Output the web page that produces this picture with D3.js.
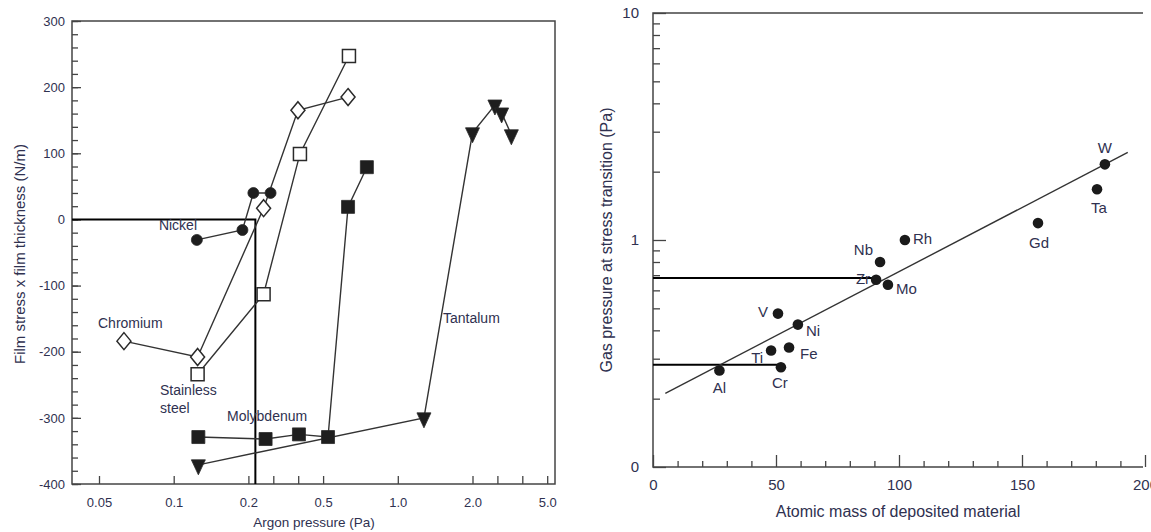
<!DOCTYPE html>
<html>
<head>
<meta charset="utf-8">
<script src="https://cdn.jsdelivr.net/npm/d3@7"></script>
<style>
  body { margin: 0; background: #fff; }
  svg { display: block; }
  text { font-family: "Liberation Sans", Arial, sans-serif; fill: #2f3150; }
</style>
</head>
<body>
<svg id="chart" width="1151" height="532"></svg>
<script>
// ---- Film stress x thickness versus argon pressure ----
const pressureTicks = [0.05, 0.1, 0.2, 0.5, 1, 2, 5];
const pressureTickLabels = ["0.05", "0.1", "0.2", "0.5", "1.0", "2.0", "5.0"];
const pressureMinorTicks = [0.3, 0.4, 3, 4];
const stressTicks = [-400, -300, -200, -100, 0, 100, 200, 300];
const stressTickLabels = ["-400", "-300", "-200", "-100", "0", "100", "200", "300"];

const nickelPressure = [0.131, 0.192, 0.22, 0.289];
const nickelStress = [-31, -16, 40, 40];
const chromiumPressure = [0.0667, 0.132, 0.261, 0.399, 0.667];
const chromiumStress = [-184, -208, 17, 165, 185];
const steelPressure = [0.132, 0.261, 0.407, 0.673];
const steelStress = [-234, -113, 99, 247];
const molybdenumPressure = [0.133, 0.269, 0.403, 0.533, 0.667, 0.793];
const molybdenumStress = [-329, -332, -325, -329, 19, 79];
const tantalumPressure = [0.133, 1.35, 2.0, 2.9, 3.17, 3.56];
const tantalumStress = [-371, -300, 131, 173, 161, 128];
const nickelTransitionPressure = 0.228;
const nickelTransitionStress = 0;

// ---- Transition pressure versus atomic mass ----
const elements = ["Al", "Ti", "Cr", "Fe", "V", "Ni", "Zr", "Nb", "Mo", "Rh", "Gd", "Ta", "W"];
const atomicMass = [27, 48, 52, 55.3, 50.8, 58.9, 90.7, 92.3, 95.5, 102.4, 156.5, 180.5, 183.7];
const transitionGasPressure = [0.266, 0.326, 0.275, 0.336, 0.474, 0.424, 0.668, 0.80, 0.635, 1.0, 1.187, 1.673, 2.154];
const fitMass = [5, 193];
const fitPressure = [0.211, 2.43];
const guideMass = [90.7, 52];
const guidePressure = [0.68, 0.282];
const massTicks = [0, 50, 100, 150, 200];
const massTickLabels = ["0", "50", "100", "150", "200"];
const gasTicks = [0.1, 1, 10];
const gasTickLabels = ["0", "1", "10"];

const svg = d3.select("#chart");
const INK = "#333";
const FRAME = "#444";
const TEXT = "#2f3150";
const FONT = "Liberation Sans, Arial, sans-serif";

// ================= left panel =================
const L = { x0: 72, x1: 555, y0: 21, y1: 484 };
const step = 74.7, first = 99;
const xL = d3.scaleLinear()
  .domain(pressureTicks)
  .range(pressureTicks.map((d, i) => first + i * step));
const yL = d3.scaleLinear().domain([-400, 300]).range([L.y1, L.y0]);

const gL = svg.append("g");

function styleAxis(g) {
  g.select(".domain").remove();
  g.selectAll(".tick line").attr("stroke", FRAME).attr("stroke-width", 1.3);
}
function styleLabels(size) {
  return g => g.selectAll("text").attr("font-size", size).attr("fill", TEXT).attr("font-family", FONT);
}

// y axis: minor every 20, majors labelled
gL.append("g").attr("transform", `translate(${L.x0},0)`)
  .call(d3.axisLeft(yL).tickValues(d3.range(-400, 301, 20)).tickSizeInner(-6).tickSizeOuter(0).tickFormat(""))
  .call(styleAxis);
gL.append("g").attr("transform", `translate(${L.x0},0)`)
  .call(d3.axisLeft(yL).tickValues(stressTicks).tickSizeInner(-9).tickSizeOuter(0).tickPadding(7)
    .tickFormat((d, i) => stressTickLabels[i]))
  .call(styleAxis)
  .call(styleLabels(13));

// x axis
gL.append("g").attr("transform", `translate(0,${L.y1})`)
  .call(d3.axisBottom(xL).tickValues(pressureMinorTicks).tickSizeInner(-8).tickSizeOuter(0).tickFormat(""))
  .call(styleAxis);
gL.append("g").attr("transform", `translate(0,${L.y1})`)
  .call(d3.axisBottom(xL).tickValues(pressureTicks).tickSizeInner(-8).tickSizeOuter(0).tickPadding(14)
    .tickFormat((d, i) => pressureTickLabels[i]))
  .call(styleAxis)
  .call(styleLabels(13));

// frame
gL.append("rect")
  .attr("x", L.x0).attr("y", L.y0).attr("width", L.x1 - L.x0).attr("height", L.y1 - L.y0)
  .attr("fill", "none").attr("stroke", FRAME).attr("stroke-width", 1.5);

// nickel transition guide
gL.append("path")
  .attr("d", d3.line()([
    [L.x0, yL(nickelTransitionStress)],
    [xL(nickelTransitionPressure), yL(nickelTransitionStress)],
    [xL(nickelTransitionPressure), L.y1]
  ]))
  .attr("fill", "none").attr("stroke", "#000").attr("stroke-width", 2);

const seriesL = [
  { name: "Nickel", px: nickelPressure, sy: nickelStress, marker: "circle", filled: true },
  { name: "Chromium", px: chromiumPressure, sy: chromiumStress, marker: "diamond", filled: false },
  { name: "Stainless steel", px: steelPressure, sy: steelStress, marker: "square", filled: false },
  { name: "Molybdenum", px: molybdenumPressure, sy: molybdenumStress, marker: "square", filled: true },
  { name: "Tantalum", px: tantalumPressure, sy: tantalumStress, marker: "triangleDown", filled: true }
];

const lineGen = d3.line().x(d => xL(d[0])).y(d => yL(d[1]));
seriesL.forEach(s => {
  const pts = s.px.map((p, i) => [p, s.sy[i]]);
  gL.append("path").attr("d", lineGen(pts))
    .attr("fill", "none").attr("stroke", INK).attr("stroke-width", 1.4);
});

function markerPath(type) {
  switch (type) {
    case "circle": return d3.symbol(d3.symbolCircle, 95)();
    case "square": return "M-6.5,-6.5H6.5V6.5H-6.5Z";
    case "diamond": return "M0,-8.5L7,0L0,8.5L-7,0Z";
    case "triangleDown": return "M-7,-5H7L0,10Z";
  }
}

seriesL.forEach(s => {
  gL.append("g").selectAll("path")
    .data(s.px.map((p, i) => [p, s.sy[i]]))
    .join("path")
    .attr("transform", d => `translate(${xL(d[0])},${yL(d[1])})`)
    .attr("d", markerPath(s.marker))
    .attr("fill", s.filled ? "#1e1e1e" : "#fff")
    .attr("stroke", "#2a2a2a")
    .attr("stroke-width", s.filled ? 0.8 : 1.5);
});

// series labels (placement in pixels)
const seriesLabelPos = [
  { lines: ["Nickel"], x: 197, y: 230, anchor: "end" },
  { lines: ["Chromium"], x: 98, y: 328, anchor: "start" },
  { lines: ["Stainless", "steel"], x: 160, y: 395, anchor: "start" },
  { lines: ["Molybdenum"], x: 227, y: 421, anchor: "start" },
  { lines: ["Tantalum"], x: 443, y: 323, anchor: "start" }
];
seriesLabelPos.forEach(l => {
  const t = gL.append("text").attr("x", l.x).attr("y", l.y)
    .attr("text-anchor", l.anchor).attr("font-size", 14);
  l.lines.forEach((ln, i) => t.append("tspan").attr("x", l.x).attr("dy", i ? 18 : 0).text(ln));
});

gL.append("text").attr("x", 314).attr("y", 527).attr("text-anchor", "middle")
  .attr("font-size", 13.5).text("Argon pressure (Pa)");
gL.append("text").attr("transform", "translate(25,254) rotate(-90)").attr("text-anchor", "middle")
  .attr("font-size", 15).text("Film stress x film thickness (N/m)");

// ================= right panel =================
const R = { x0: 653, x1: 1145, y0: 13, y1: 467 };
const xR = d3.scaleLinear().domain([0, 200]).range([R.x0, R.x1]);
const yR = d3.scaleLog().domain([0.1, 10]).range([R.y1, R.y0]);
const gR = svg.append("g");

const minorGas = [0.2, 0.3, 0.4, 0.5, 0.6, 0.7, 0.8, 0.9, 2, 3, 4, 5, 6, 7, 8, 9];
gR.append("g").attr("transform", `translate(${R.x0},0)`)
  .call(d3.axisLeft(yR).tickValues(minorGas).tickSizeInner(-7).tickSizeOuter(0).tickFormat(""))
  .call(styleAxis);
gR.append("g").attr("transform", `translate(${R.x0},0)`)
  .call(d3.axisLeft(yR).tickValues(gasTicks).tickSizeInner(-13).tickSizeOuter(0).tickPadding(14)
    .tickFormat((d, i) => gasTickLabels[i]))
  .call(styleAxis)
  .call(styleLabels(15));

gR.append("g").attr("transform", `translate(0,${R.y1})`)
  .call(d3.axisBottom(xR).tickValues(d3.range(10, 200, 10).filter(v => v % 50)).tickSizeInner(-6).tickSizeOuter(0).tickFormat(""))
  .call(styleAxis);
gR.append("g").attr("transform", `translate(0,${R.y1})`)
  .call(d3.axisBottom(xR).tickValues(massTicks).tickSizeInner(-12).tickSizeOuter(0).tickPadding(12)
    .tickFormat((d, i) => massTickLabels[i]))
  .call(styleAxis)
  .call(styleLabels(15));

// axes lines: left, bottom, top (open on the right)
gR.append("path")
  .attr("d", `M${R.x1 - 2},${R.y0}H${R.x0}V${R.y1}H${R.x1 - 2}`)
  .attr("fill", "none").attr("stroke", FRAME).attr("stroke-width", 1.5);

// guide lines
guideMass.forEach((m, i) => {
  gR.append("line")
    .attr("x1", xR(0)).attr("x2", xR(m))
    .attr("y1", yR(guidePressure[i])).attr("y2", yR(guidePressure[i]))
    .attr("stroke", "#000").attr("stroke-width", 2);
});

// fitted trend
gR.append("line")
  .attr("x1", xR(fitMass[0])).attr("y1", yR(fitPressure[0]))
  .attr("x2", xR(fitMass[1])).attr("y2", yR(fitPressure[1]))
  .attr("stroke", INK).attr("stroke-width", 1.4);

gR.append("g").selectAll("circle")
  .data(elements.map((e, i) => ({ e, m: atomicMass[i], p: transitionGasPressure[i] })))
  .join("circle")
  .attr("cx", d => xR(d.m)).attr("cy", d => yR(d.p)).attr("r", 5.3)
  .attr("fill", "#1a1a1a");

// label offsets from each point (pixels)
const labelOffset = {
  Al: [0, 22, "middle"], Ti: [-8, 13, "end"], Cr: [-1, 21, "middle"], Fe: [11, 11, "start"],
  V: [-10, 3, "end"], Ni: [8, 11, "start"], Zr: [-6, 4, "end"], Nb: [-7, -7, "end"],
  Mo: [8, 9, "start"], Rh: [8, 4, "start"], Gd: [1, 25, "middle"], Ta: [2, 24, "middle"],
  W: [0, -11, "middle"]
};
elements.forEach((e, i) => {
  const o = labelOffset[e];
  gR.append("text")
    .attr("x", xR(atomicMass[i]) + o[0]).attr("y", yR(transitionGasPressure[i]) + o[1])
    .attr("text-anchor", o[2]).attr("font-size", 15).text(e);
});

gR.append("text").attr("x", 898).attr("y", 517).attr("text-anchor", "middle")
  .attr("font-size", 16).text("Atomic mass of deposited material");
gR.append("text").attr("transform", "translate(612,240) rotate(-90)").attr("text-anchor", "middle")
  .attr("font-size", 16).text("Gas pressure at stress transition (Pa)");
</script>
</body>
</html>
